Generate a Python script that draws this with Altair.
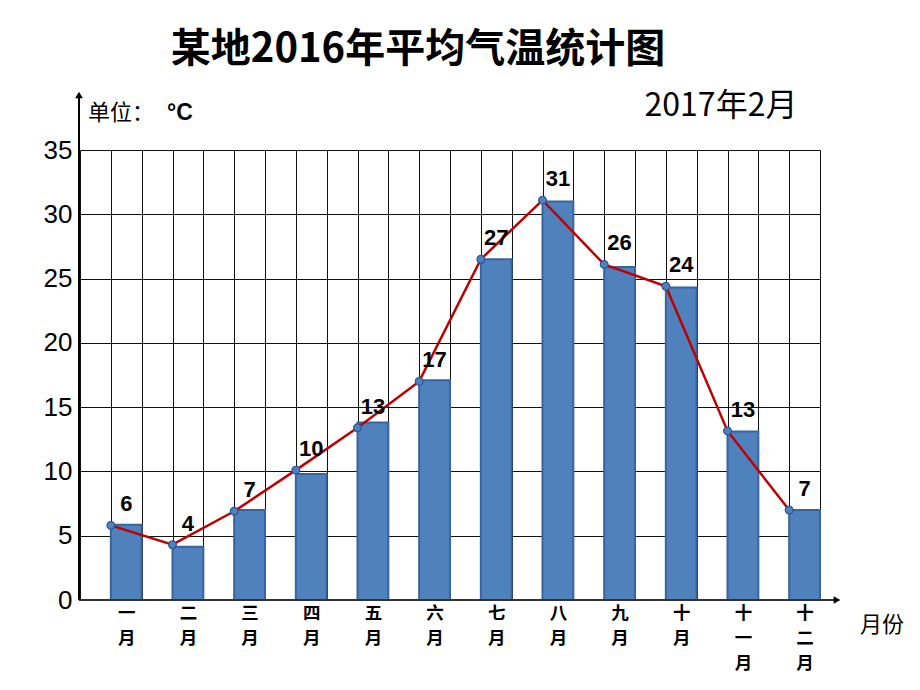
import json
import altair as alt
import pandas as pd

# ---- data ----
month_names = ["一月", "二月", "三月", "四月", "五月", "六月",
               "七月", "八月", "九月", "十月", "十一月", "十二月"]
month_axis_lines = [["一", "月"], ["二", "月"], ["三", "月"], ["四", "月"],
                    ["五", "月"], ["六", "月"], ["七", "月"], ["八", "月"],
                    ["九", "月"], ["十", "月"], ["十", "一", "月"], ["十", "二", "月"]]
bar_values = [5.85, 4.15, 7.0, 9.8, 13.8, 17.1, 26.5, 31.0, 25.9, 24.3, 13.1, 7.0]
line_values = [5.8, 4.3, 6.9, 10.1, 13.4, 17.0, 26.5, 31.1, 26.1, 24.4, 13.15, 7.0]
value_labels = ["6", "4", "7", "10", "13", "17", "27", "31", "26", "24", "13", "7"]
y_ticks = [0, 5, 10, 15, 20, 25, 30, 35]

title_text = "某地2016年平均气温统计图"
date_text = "2017年2月"
unit_text = "单位："
unit_sym = "°C"
x_title = "月份"

idx = list(range(len(month_names)))
df = pd.DataFrame({
    "month": month_names,
    "idx": idx,
    "bar": bar_values,
    "line": line_values,
    "label": value_labels,
})
df["xp"] = 2 * df["idx"] + 1      # line point position (half-band units)
df["xb2"] = df["xp"] + 1          # bar right edge
df["xc"] = df["xp"] + 0.5         # bar centre
df["zero"] = 0

W, H = 740, 450
CJK = "Noto Sans CJK SC"
LAT = "Liberation Sans"

xscale = alt.Scale(domain=[0, 24], nice=False, zero=False)
yscale = alt.Scale(domain=[0, 35], nice=False)

label_expr = ("datum.value % 2 == 1 ? "
              + json.dumps(month_axis_lines, ensure_ascii=False)
              + "[(datum.value - 1) / 2] : ''")

x_axis = alt.Axis(values=list(range(25)), grid=True, gridColor="#111111",
                  gridWidth=1, ticks=False, domain=False, labelExpr=label_expr,
                  labelOffset=15.4, labelFontSize=17.5, labelFontWeight="bold",
                  labelFont=CJK, labelLineHeight=25, labelBaseline="top",
                  labelPadding=4, labelOverlap=False, labelBound=False,
                  labelFlush=False, labelColor="#000000", title=None)
y_axis = alt.Axis(values=y_ticks, grid=True, gridColor="#111111", gridWidth=1,
                  ticks=False, domain=False, labelFontSize=26, labelFont=LAT,
                  labelPadding=8, labelColor="#000000", title=None)

base = alt.Chart(df)

bars = base.mark_bar(fill="#4F81BD", stroke="#3A64A0", strokeWidth=2).encode(
    x=alt.X("xp:Q", scale=xscale, axis=x_axis),
    x2="xb2:Q",
    y=alt.Y("bar:Q", scale=yscale, axis=y_axis),
    y2="zero:Q",
)

line = base.mark_line(color="#C00000", strokeWidth=2.5).encode(
    x=alt.X("xp:Q", scale=xscale, axis=x_axis),
    y=alt.Y("line:Q", scale=yscale, axis=y_axis),
)

points = base.mark_point(filled=True, size=60, fill="#4F81BD", stroke="#2F5597",
                         strokeWidth=1.2, opacity=1).encode(
    x=alt.X("xp:Q", scale=xscale, axis=x_axis),
    y=alt.Y("line:Q", scale=yscale, axis=y_axis),
)

labels = base.mark_text(font=LAT, fontSize=22, fontWeight="bold", color="#000000",
                        dy=-21, baseline="middle", align="center").encode(
    x=alt.X("xc:Q", scale=xscale, axis=x_axis),
    y=alt.Y("line:Q", scale=yscale, axis=y_axis),
    text="label:N",
)

one = alt.Chart(pd.DataFrame({"a": [0]}))

# axis lines with arrows
y_line = one.mark_rule(color="#000000", strokeWidth=2).encode(
    x=alt.value(-1), y=alt.value(H), y2=alt.value(-52))
y_arrow = one.mark_point(shape="triangle-up", filled=True, color="#000000",
                         size=60, opacity=1).encode(x=alt.value(-1), y=alt.value(-55))
x_line = one.mark_rule(color="#333333", strokeWidth=2).encode(
    x=alt.value(-1), x2=alt.value(755), y=alt.value(H))
x_arrow = one.mark_point(shape="triangle-right", filled=True, color="#000000",
                         size=60, opacity=1).encode(x=alt.value(757), y=alt.value(H))

title = one.mark_text(text=title_text, font=CJK, fontSize=40, fontWeight="bold",
                      color="#000000", align="center", baseline="middle").encode(
    x=alt.value(338), y=alt.value(-100))
date = one.mark_text(text=date_text, font=CJK, fontSize=32, color="#000000",
                     align="center", baseline="middle").encode(
    x=alt.value(641), y=alt.value(-44))
unit1 = one.mark_text(text=unit_text, font=CJK, fontSize=22, color="#000000",
                      align="left", baseline="middle").encode(
    x=alt.value(8), y=alt.value(-37))
unit2 = one.mark_text(text=unit_sym, font=LAT, fontSize=23, fontWeight="bold",
                      color="#000000", align="left", baseline="middle").encode(
    x=alt.value(87), y=alt.value(-37))
xt = one.mark_text(text=x_title, font=CJK, fontSize=22, color="#000000",
                   align="left", baseline="middle").encode(
    x=alt.value(780), y=alt.value(475))

chart = alt.layer(
    bars, line, points, labels,
    y_line, y_arrow, x_line, x_arrow,
    title, date, unit1, unit2, xt,
).properties(
    width=W, height=H,
    autosize=alt.AutoSizeParams(type="none"),
    padding={"left": 72, "top": 142, "right": 92, "bottom": 82},
    background="#ffffff",
).configure_view(stroke=None)

chart.save("out.html", embed_options={"renderer": "svg", "actions": False})
